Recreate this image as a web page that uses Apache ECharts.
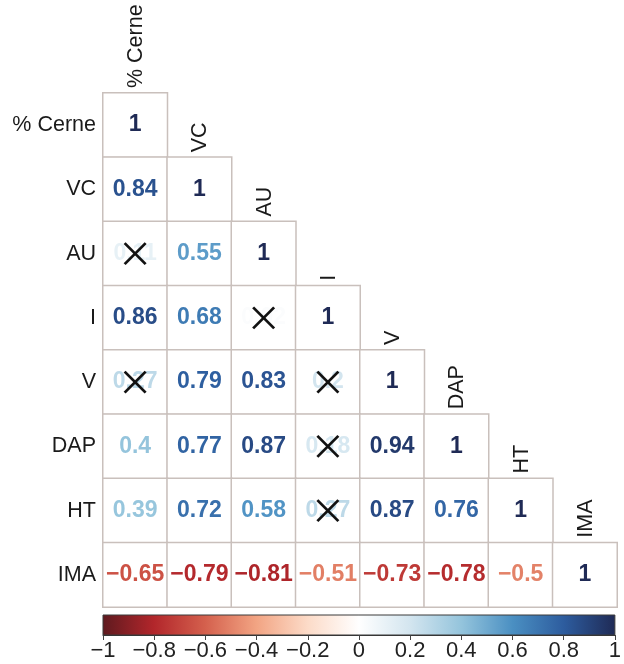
<!DOCTYPE html>
<html>
<head>
<meta charset="utf-8">
<script src="https://cdn.jsdelivr.net/npm/echarts@6/dist/echarts.min.js"></script>
<style>
  html, body { margin: 0; padding: 0; background: #ffffff; }
  #chart { width: 624px; height: 664px; }
</style>
</head>
<body>
<div id="chart"></div>
<script>
// Variables, in row/column order
const variables = ['% Cerne', 'VC', 'AU', 'I', 'V', 'DAP', 'HT', 'IMA'];

// Lower-triangle Pearson correlations, one array per row (columns follow `variables`)
const rowCerne = [1];
const rowVC    = [0.84, 1];
const rowAU    = [0.11, 0.55, 1];
const rowI     = [0.86, 0.68, 0.02, 1];
const rowV     = [0.27, 0.79, 0.83, 0.2, 1];
const rowDAP   = [0.4, 0.77, 0.87, 0.18, 0.94, 1];
const rowHT    = [0.39, 0.72, 0.58, 0.27, 0.87, 0.76, 1];
const rowIMA   = [-0.65, -0.79, -0.81, -0.51, -0.73, -0.78, -0.5, 1];

// Pairs that are not significant (crossed out)
const crossedPairs = [
  ['AU', '% Cerne'], ['I', 'AU'], ['V', '% Cerne'],
  ['V', 'I'], ['DAP', 'I'], ['HT', 'I']
];

// Colour scale range and tick step
const scaleMin = -1;
const scaleMax = 1;
const scaleStep = 0.2;

// Diverging red-white-blue palette, evenly spaced over [-1, 1]
const palette = ['#5e1a1f', '#b2262b', '#d4604d', '#f2a483', '#fcdbc8', '#ffffff',
                 '#d3e5ef', '#94c4dc', '#4a8fc2', '#2d5c9e', '#1f2a55'];

const FONT = '"Liberation Sans", Arial, Helvetica, sans-serif';
const rows = [rowCerne, rowVC, rowAU, rowI, rowV, rowDAP, rowHT, rowIMA];

function colorFor(v) {
  const t = (v - scaleMin) / (scaleMax - scaleMin);
  return echarts.color.lerp(t, palette);
}
function fmt(v) {
  const s = String(Math.abs(v));
  return (v < 0 ? '\u2212' : '') + s;
}

// Heatmap cells with coloured coefficients
const cellData = [];
rows.forEach((row, i) => {
  row.forEach((v, j) => {
    cellData.push({ value: [j, i, v], label: { color: colorFor(v) } });
  });
});

const crossData = crossedPairs.map(([r, c]) => [variables.indexOf(c), variables.indexOf(r)]);
const diagData = variables.map((_, j) => [j, j]);

// Colour bar gradient stops
const gradStops = palette.map((c, k) => ({ offset: k / (palette.length - 1), color: c }));

const chart = echarts.init(document.getElementById('chart'), null, { renderer: 'canvas' });

chart.setOption({
  animation: false,
  backgroundColor: '#ffffff',
  grid: [
    { left: 103, top: 93, width: 514, height: 514 },
    { left: 103, top: 615, width: 514, height: 20 }
  ],
  xAxis: [
    { type: 'category', gridIndex: 0, data: variables, show: false },
    {
      type: 'value', gridIndex: 1, min: scaleMin, max: scaleMax, interval: scaleStep,
      axisLine: { show: true, lineStyle: { color: '#333333', width: 1 } },
      axisTick: { show: true, length: 5, lineStyle: { color: '#444444' } },
      splitLine: { show: false },
      axisLabel: {
        fontSize: 22, color: '#222222', fontFamily: FONT, margin: 5,
        formatter: (v) => {
          const r = Math.round(v * 10) / 10;
          return (r < 0 ? '\u2212' : '') + Math.abs(r);
        }
      }
    }
  ],
  yAxis: [
    {
      type: 'category', gridIndex: 0, data: variables, inverse: true,
      axisLine: { show: false }, axisTick: { show: false }, splitLine: { show: false },
      axisLabel: { fontSize: 21.5, color: '#1a1a1a', fontFamily: FONT, margin: 7 }
    },
    { type: 'value', gridIndex: 1, min: 0, max: 1, show: false }
  ],
  series: [
    {
      type: 'heatmap',
      xAxisIndex: 0, yAxisIndex: 0,
      data: cellData,
      itemStyle: { color: '#ffffff', borderColor: '#c9c0bc', borderWidth: 1.5 },
      label: {
        show: true, fontSize: 23, fontWeight: 'bold', fontFamily: FONT,
        formatter: (p) => fmt(p.value[2])
      },
      emphasis: { disabled: true }
    },
    {
      // crosses over non-significant coefficients
      type: 'custom',
      xAxisIndex: 0, yAxisIndex: 0,
      data: crossData,
      silent: true,
      z: 5,
      renderItem: (params, api) => {
        const c = api.coord([api.value(0), api.value(1)]);
        const h = 10.5;
        const st = { stroke: '#111111', lineWidth: 2.8 };
        return {
          type: 'group',
          children: [
            { type: 'line', shape: { x1: c[0] - h, y1: c[1] - h, x2: c[0] + h, y2: c[1] + h }, style: st },
            { type: 'line', shape: { x1: c[0] - h, y1: c[1] + h, x2: c[0] + h, y2: c[1] - h }, style: st }
          ]
        };
      }
    },
    {
      // rotated column names above the diagonal
      type: 'custom',
      xAxisIndex: 0, yAxisIndex: 0,
      data: diagData,
      silent: true,
      clip: false,
      renderItem: (params, api) => {
        const j = api.value(0);
        const c = api.coord([j, j]);
        const s = api.size([1, 1]);
        return {
          type: 'text',
          x: c[0] + 1,
          y: c[1] - s[1] / 2 - 5,
          rotation: Math.PI / 2,
          style: {
            text: variables[j], fill: '#1a1a1a',
            font: '21.5px ' + FONT, align: 'left', verticalAlign: 'middle'
          }
        };
      }
    },
    {
      // colour bar
      type: 'custom',
      xAxisIndex: 1, yAxisIndex: 1,
      data: [[scaleMin, scaleMax]],
      silent: true,
      renderItem: (params, api) => {
        const a = api.coord([api.value(0), 0]);
        const b = api.coord([api.value(1), 1]);
        return {
          type: 'rect',
          shape: { x: a[0], y: b[1], width: b[0] - a[0], height: a[1] - b[1] },
          style: {
            fill: new echarts.graphic.LinearGradient(0, 0, 1, 0, gradStops),
            stroke: '#3a3a3a', lineWidth: 1
          }
        };
      }
    }
  ]
});
</script>
</body>
</html>
